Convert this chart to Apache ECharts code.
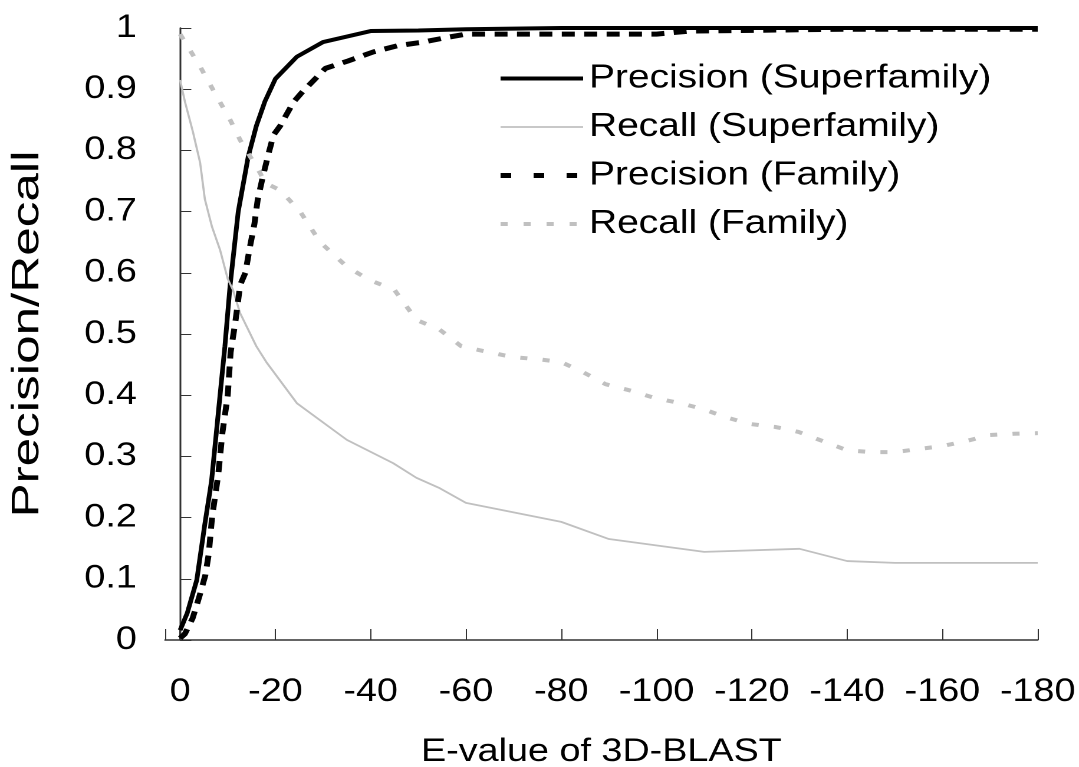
<!DOCTYPE html>
<html>
<head>
<meta charset="utf-8">
<script src="https://cdn.jsdelivr.net/npm/echarts@6/dist/echarts.min.js"></script>
<style>
  html, body { margin: 0; padding: 0; background: #fff; overflow: hidden; }
  /* the source picture is stretched sideways, so the chart is drawn narrower and widened */
  #chart { width: 915px; height: 767px; transform: scaleX(1.1792); transform-origin: 0 0; }
</style>
</head>
<body>
<div id="chart"></div>
<script>
// x tick labels / axis
const xTicks = [0, -20, -40, -60, -80, -100, -120, -140, -160, -180]

// Precision (Superfamily)
const precSfE = [0, -1.5, -3.5, -5.2, -6.6, -8, -9.4, -10.5, -12.2, -14.3, -16, -17.8, -20, -24.5, -30, -40, -50, -60, -80, -180]
const precSfV = [0.016, 0.044, 0.098, 0.19, 0.26, 0.37, 0.48, 0.58, 0.70, 0.79, 0.84, 0.88, 0.917, 0.953, 0.977, 0.995, 0.996, 0.998, 1.0, 1.0]

// Recall (Superfamily)
const recSfE = [0, -1, -2.7, -4.2, -5.2, -6.7, -8.4, -10, -11.1, -12.6, -16, -18.2, -24.5, -35, -44.7, -49.6, -54.5, -60, -80, -90, -110, -130, -140, -150, -180]
const recSfV = [0.915, 0.88, 0.83, 0.78, 0.72, 0.675, 0.637, 0.59, 0.572, 0.534, 0.48, 0.453, 0.387, 0.327, 0.289, 0.265, 0.248, 0.224, 0.193, 0.165, 0.144, 0.149, 0.129, 0.126, 0.126]

// Precision (Family)
const precFE = [0, -1, -2.6, -4, -5.3, -6, -6.7, -8, -8.9, -10, -10.6, -11.6, -12.6, -13.7, -14.6, -15.6, -16.3, -17.3, -18.4, -19.6, -21, -23.8, -25.6, -30.5, -35.2, -40.6, -45.6, -51, -56.3, -60, -80, -100, -107, -140, -180]
const precFV = [0.003, 0.01, 0.035, 0.07, 0.106, 0.14, 0.20, 0.27, 0.34, 0.40, 0.47, 0.52, 0.58, 0.60, 0.64, 0.68, 0.72, 0.755, 0.79, 0.825, 0.84, 0.879, 0.895, 0.934, 0.946, 0.961, 0.971, 0.977, 0.985, 0.99, 0.99, 0.99, 0.995, 0.998, 0.998]

// Recall (Family)
const recFE = [0, -4.2, -7.7, -10.5, -12.6, -14.7, -16.8, -17.8, -21, -25.2, -29.4, -35, -39.8, -45, -49.6, -54.5, -59, -65, -70, -75, -80, -84.5, -89.3, -94.8, -99.8, -105, -109.9, -114.5, -119.6, -125, -129.8, -134.2, -140, -145, -150, -155, -160, -165, -170, -175, -180]
const recFV = [0.99, 0.937, 0.888, 0.85, 0.817, 0.79, 0.763, 0.747, 0.735, 0.70, 0.65, 0.61, 0.588, 0.572, 0.523, 0.507, 0.48, 0.47, 0.462, 0.459, 0.454, 0.438, 0.418, 0.407, 0.395, 0.387, 0.377, 0.364, 0.353, 0.348, 0.34, 0.327, 0.31, 0.307, 0.307, 0.312, 0.317, 0.325, 0.335, 0.337, 0.338]

const font = "'Liberation Sans', Arial, sans-serif"

function pairs (xs, ys) {
  return xs.map((x, i) => [x, ys[i]])
}

const chart = echarts.init(document.getElementById('chart'), null, { devicePixelRatio: 2 })
chart.setOption({
  animation: false,
  backgroundColor: '#fff',
  textStyle: { fontFamily: font },
  grid: { left: 140, right: 35, top: 28, bottom: 127, outerBoundsMode: 'none' },
  legend: {
    orient: 'vertical',
    left: 422,
    top: 62,
    padding: 0,
    itemWidth: 70,
    itemHeight: 14,
    itemGap: 15.5,
    itemStyle: { opacity: 0 },
    lineStyle: { width: 'inherit' },
    textStyle: { fontFamily: font, fontSize: 33, color: '#000', lineHeight: 33 },
    data: [
      { name: 'Precision (Superfamily)' },
      { name: 'Recall (Superfamily)' },
      { name: 'Precision (Family)', lineStyle: { type: [9, 19] } },
      { name: 'Recall (Family)', lineStyle: { type: [6, 13.5] } }
    ]
  },
  // y axis title: drawn as text so it can be elongated like in the source
  graphic: [{
    type: 'text',
    x: 23.5,
    y: 334,
    rotation: Math.PI / 2,
    scaleX: 1.6,
    style: {
      text: 'Precision/Recall',
      fontFamily: font,
      fontSize: 32,
      fill: '#000',
      align: 'center',
      verticalAlign: 'middle'
    }
  }],
  xAxis: {
    type: 'value',
    inverse: true,
    min: -180,
    max: 3.15,
    interval: 20,
    name: 'E-value of 3D-BLAST',
    nameLocation: 'middle',
    nameGap: 96,
    nameTextStyle: { fontFamily: font, fontSize: 32, color: '#000' },
    axisLine: { lineStyle: { color: '#333', width: 1.5 } },
    axisTick: { inside: true, length: 11, lineStyle: { color: '#333', width: 1 } },
    axisLabel: {
      fontFamily: font,
      fontSize: 32,
      color: '#000',
      margin: 36,
      formatter: v => (xTicks.indexOf(v) >= 0 ? String(v) : '')
    },
    splitLine: { show: false }
  },
  yAxis: {
    type: 'value',
    min: 0,
    max: 1,
    interval: 0.1,
    axisLine: { show: true, lineStyle: { color: '#333', width: 1.5 } },
    axisTick: { show: true, inside: true, length: 9.5, lineStyle: { color: '#333', width: 1 } },
    axisLabel: { fontFamily: font, fontSize: 32, color: '#000', margin: 24 },
    splitLine: { show: false }
  },
  series: [
    {
      name: 'Precision (Superfamily)',
      type: 'line',
      symbol: 'none',
      data: pairs(precSfE, precSfV),
      lineStyle: { color: '#000', width: 4 },
      itemStyle: { color: '#000' }
    },
    {
      name: 'Recall (Superfamily)',
      type: 'line',
      symbol: 'none',
      data: pairs(recSfE, recSfV),
      lineStyle: { color: '#c0c0c0', width: 1.8 },
      itemStyle: { color: '#c0c0c0' }
    },
    {
      name: 'Precision (Family)',
      type: 'line',
      symbol: 'none',
      data: pairs(precFE, precFV),
      lineStyle: { color: '#000', width: 5, type: [11, 8] },
      itemStyle: { color: '#000' }
    },
    {
      name: 'Recall (Family)',
      type: 'line',
      symbol: 'none',
      data: pairs(recFE, recFV),
      lineStyle: { color: '#c0c0c0', width: 4, type: [6, 13] },
      itemStyle: { color: '#c0c0c0' }
    }
  ]
})
</script>
</body>
</html>
